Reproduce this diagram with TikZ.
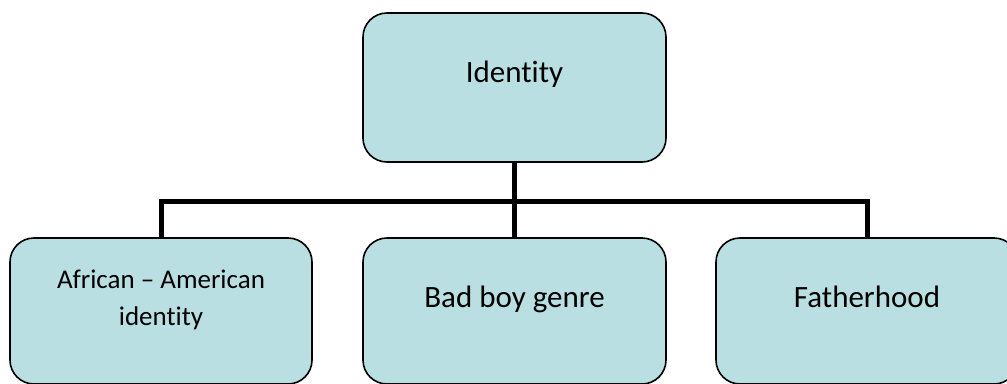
\documentclass[tikz,border=0pt]{standalone}
\usepackage{fontspec}
\setmainfont{Carlito}[Ligatures={NoCommon}]
\definecolor{boxfill}{RGB}{185,223,227}
\begin{document}
\begin{tikzpicture}[x=1pt,y=-1pt,
  box/.style={draw=black, line width=1.6pt, fill=boxfill, rounded corners=24pt,
    inner sep=0pt, outer sep=0pt, anchor=north west, minimum width=302pt},
  conn/.style={draw=black, line width=5pt, line join=miter},
  lbl/.style={font=\fontsize{31}{37}\selectfont, anchor=base, inner sep=0pt},
  lblsmall/.style={font=\fontsize{27}{37}\selectfont, anchor=base, align=center, inner sep=0pt}]
\useasboundingbox (0,0) rectangle (1007,383);
\clip (0,0) rectangle (1007,383);
% boxes
\node[box, minimum width=303pt, minimum height=149pt] (top) at (363,13) {};
\node[box, minimum height=146pt] (left) at (10,238) {};
\node[box, minimum width=303pt, minimum height=146pt] (mid) at (363,238) {};
\node[box, minimum height=146pt] (right) at (716,238) {};
% connectors
\coordinate (bus) at (514.5,201);
\draw[conn] (top.south) -- (mid.north);
\draw[conn] (left.north) |- (bus) -| (right.north);
% labels
\node[lbl] (ltop) at (514.5,82) {Identity};
\node[lblsmall] (lleft) at (161,325) {African – American\\identity};
\node[lbl] (lmid) at (514.5,307) {Bad boy genre};
\node[lbl] (lright) at (867,307) {Fatherhood};
\end{tikzpicture}
\end{document}
